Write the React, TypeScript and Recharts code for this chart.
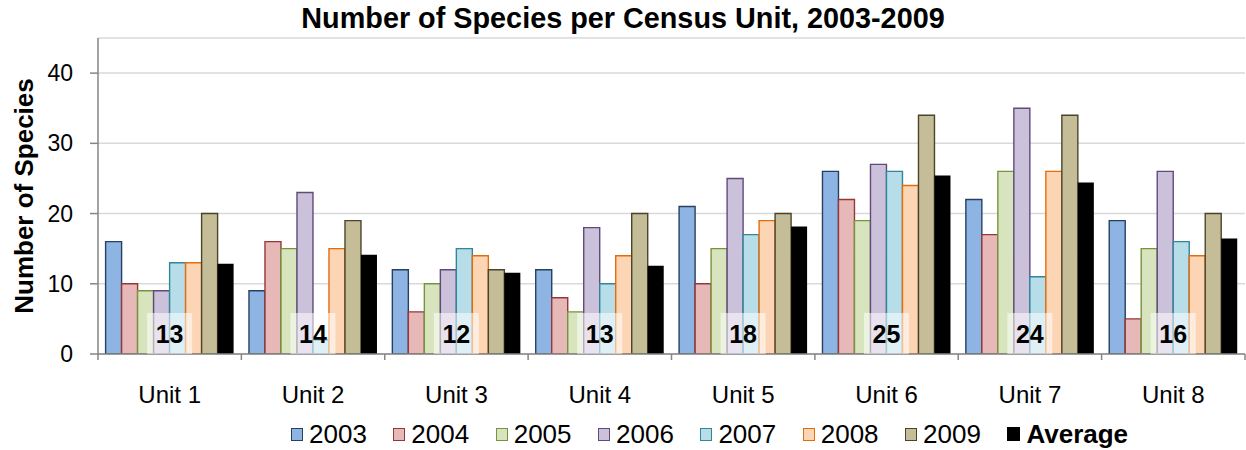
import React from "react";
import { BarChart, Bar, XAxis, YAxis, CartesianGrid, LabelList } from "recharts";

const units = ["Unit 1", "Unit 2", "Unit 3", "Unit 4", "Unit 5", "Unit 6", "Unit 7", "Unit 8"];
const v2003 = [16, 9, 12, 12, 21, 26, 22, 19];
const v2004 = [10, 16, 6, 8, 10, 22, 17, 5];
const v2005 = [9, 15, 10, 6, 15, 19, 26, 15];
const v2006 = [9, 23, 12, 18, 25, 27, 35, 26];
const v2007 = [13, 2, 15, 10, 17, 26, 11, 16];
const v2008 = [13, 15, 14, 14, 19, 24, 26, 14];
const v2009 = [20, 19, 12, 20, 20, 34, 34, 20];
const average = [12.86, 14.14, 11.57, 12.57, 18.14, 25.43, 24.43, 16.43];
const yTicks = [0, 10, 20, 30, 40];

const seriesNames = ["2003", "2004", "2005", "2006", "2007", "2008", "2009", "Average"];
const seriesValues = [v2003, v2004, v2005, v2006, v2007, v2008, v2009, average];
const fills = ["#8EB4E3", "#E6B9B8", "#D7E4BD", "#CCC1DA", "#B7DEE8", "#FCD5B5", "#C4BD97", "#000000"];
const strokes = ["#254061", "#953735", "#77933C", "#604A7B", "#31859C", "#E46C0A", "#4A452A", "none"];

const FONT = '"Liberation Sans", Arial, sans-serif';
const AXIS = "#868686";

const data = units.map((unit, i) => {
  const row: Record<string, string | number> = { unit };
  seriesNames.forEach((name, s) => {
    row["s" + s] = seriesValues[s][i];
  });
  return row;
});

// rounded average in a translucent box, centred on the bar cluster
const AvgLabel = (props: any) => {
  const { x, y, width, height, index } = props;
  const cx = x - 3 * width;
  const base = y + height;
  return (
    <g>
      <rect x={cx - 22.5} y={base - 41} width={45} height={41} fill="#ffffff" fillOpacity={0.55} />
      <text x={cx} y={base - 11} textAnchor="middle" fontSize={25} fontWeight="bold" fill="#000" fontFamily={FONT}>
        {Math.round(average[index])}
      </text>
    </g>
  );
};

const UnitTick = (props: any) => {
  const { x, y, payload, index } = props;
  const half = payload.offset || 1147 / units.length / 2;
  return (
    <g>
      <line x1={x - half} x2={x - half} y1={y} y2={y + 6} stroke={AXIS} strokeWidth={1.5} />
      {index === units.length - 1 ? (
        <line x1={x + half} x2={x + half} y1={y} y2={y + 6} stroke={AXIS} strokeWidth={1.5} />
      ) : null}
      <text x={x} y={y + 49} textAnchor="middle" fontSize={24} fill="#000" fontFamily={FONT}>
        {payload.value}
      </text>
    </g>
  );
};

const YTitle = (props: any) => {
  const { viewBox } = props;
  const cy = viewBox.y + viewBox.height / 2;
  return (
    <text
      transform={`translate(33, ${cy}) rotate(-90)`}
      textAnchor="middle"
      fontSize={26}
      fontWeight="bold"
      fill="#000"
      fontFamily={FONT}
    >
      Number of Species
    </text>
  );
};

export default function App() {
  return (
    <div style={{ position: "absolute", left: 0, top: 0, width: 1246, height: 450, background: "#fff", fontFamily: FONT }}>
      <div
        style={{
          position: "absolute",
          top: 4,
          left: 0,
          width: 1246,
          textAlign: "center",
          fontSize: 28.8,
          lineHeight: "28px",
          fontWeight: "bold",
          color: "#000",
        }}
      >
        Number of Species per Census Unit, 2003-2009
      </div>
      <BarChart
        width={1246}
        height={450}
        data={data}
        margin={{ top: 38, right: 1, left: 0, bottom: 40 }}
        barCategoryGap="5.3%"
        barGap={0}
      >
        <CartesianGrid vertical={false} stroke="#D9D9D9" strokeWidth={1.5} />
        <XAxis
          dataKey="unit"
          height={56}
          axisLine={{ stroke: AXIS, strokeWidth: 1.5 }}
          tickLine={false}
          tickSize={0}
          tickMargin={0}
          interval={0}
          tick={<UnitTick />}
        />
        <YAxis
          width={98}
          domain={[0, 45]}
          ticks={yTicks}
          interval={0}
          allowDataOverflow
          axisLine={{ stroke: AXIS, strokeWidth: 1.5 }}
          tickLine={{ stroke: AXIS, strokeWidth: 1.5 }}
          tickSize={8}
          tickMargin={17}
          tick={{ fontSize: 23, fill: "#000", fontFamily: FONT }}
          label={<YTitle />}
        />
        {seriesNames.map((name, s) => (
          <Bar
            key={name}
            dataKey={"s" + s}
            name={name}
            fill={fills[s]}
            stroke={strokes[s]}
            strokeWidth={1.4}
            isAnimationActive={false}
          >
            {s === seriesNames.length - 1 ? <LabelList dataKey={"s" + s} content={AvgLabel} /> : null}
          </Bar>
        ))}
      </BarChart>
      <div
        style={{
          position: "absolute",
          left: 291,
          top: 421,
          display: "flex",
          alignItems: "center",
          gap: 26.5,
          fontSize: 26,
          lineHeight: "26px",
          color: "#000",
          whiteSpace: "nowrap",
        }}
      >
        {seriesNames.map((name, s) => (
          <div key={name} style={{ display: "flex", alignItems: "center" }}>
            <span
              style={{
                display: "inline-block",
                width: s === seriesNames.length - 1 ? 13 : 10,
                height: s === seriesNames.length - 1 ? 14 : 11,
                background: fills[s],
                border: s === seriesNames.length - 1 ? "none" : `1.5px solid ${strokes[s]}`,
                marginRight: 6,
              }}
            />
            <span style={{ fontWeight: s === seriesNames.length - 1 ? "bold" : "normal" }}>{name}</span>
          </div>
        ))}
      </div>
    </div>
  );
}
